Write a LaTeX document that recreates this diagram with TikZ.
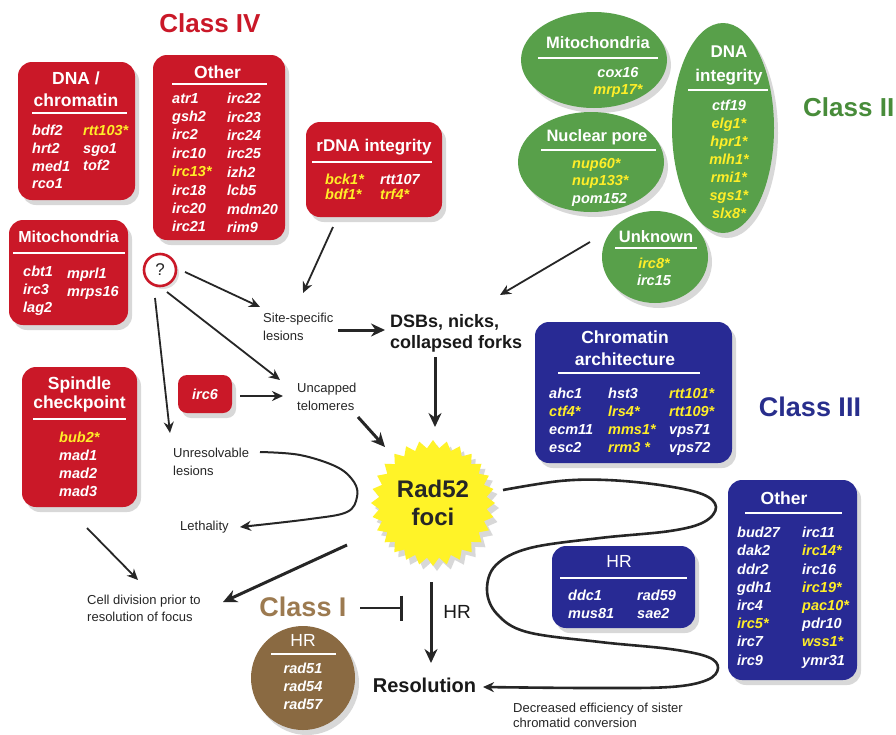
\documentclass[tikz,border=0pt]{standalone}
\usepackage{fontspec}
\setmainfont{Liberation Sans}
\usepackage{tikz}
\usetikzlibrary{arrows.meta,shapes.geometric,shapes.symbols,shadows}
\definecolor{clsred}{RGB}{202,24,40}
\definecolor{clsgreen}{RGB}{88,160,74}
\definecolor{clsgreentxt}{RGB}{72,140,58}
\definecolor{clsblue}{RGB}{40,42,148}
\definecolor{clsbluetxt}{RGB}{40,46,140}
\definecolor{clsbrown}{RGB}{138,106,66}
\definecolor{clsbrowntxt}{RGB}{156,122,80}
\definecolor{hityellow}{RGB}{255,238,40}
\definecolor{fociyellow}{RGB}{255,243,40}
\definecolor{inkgrey}{RGB}{38,38,38}
\newcommand{\hit}[1]{\textcolor{hityellow}{#1}}
\tikzset{
    softshadow/.style={drop shadow={shadow xshift=4pt, shadow yshift=-5pt, opacity=0.3}},
    panel/.style={rounded corners=14pt, inner sep=0pt, softshadow},
    redpanel/.style={panel, fill=clsred},
    bluepanel/.style={panel, fill=clsblue},
    greenblob/.style={ellipse, inner sep=0pt, fill=clsgreen, softshadow},
    head/.style={text=white, inner sep=0pt, align=center, font=\fontsize{17.5}{22}\selectfont\bfseries},
    genes/.style={text=white, inner sep=0pt, align=left, anchor=north west, font=\fontsize{14.5}{#1}\selectfont\bfseries\itshape},
    genes/.default=18.2,
    cgenes/.style={genes=#1, anchor=north, align=center},
    cgenes/.default=18,
    hrule/.style={white, line width=2.6pt},
    note/.style={text=inkgrey, inner sep=0pt, anchor=west, align=left, font=\fontsize{13}{18}\selectfont},
    classlbl/.style={inner sep=0pt, font=\fontsize{27}{30}\selectfont\bfseries},
    arr/.style={draw=inkgrey, line width=1.8pt, -{Stealth[length=11pt,width=10pt]}},
    fatarr/.style={draw=inkgrey, line width=3pt, -{Stealth[length=14pt,width=13pt]}},
}

\begin{document}
\begin{tikzpicture}[x=1pt,y=1pt]
\useasboundingbox (0,0) rectangle (896,-734);
\fill[white] (0,0) rectangle (896,-734);

% Class IV
\node[classlbl, text=clsred, font=\fontsize{26}{30}\selectfont\bfseries] (c4) at (210,-23) {Class IV};
\node[redpanel, minimum width=117pt, minimum height=138pt] (dnabox) at (76.5,-131) {};
\node[redpanel, minimum width=132pt, minimum height=185pt] (othbox) at (219,-147.5) {};
\node[redpanel, minimum width=136pt, minimum height=95pt] (rdna) at (374,-169.5) {};
\node[redpanel, minimum width=119pt, minimum height=105pt] (mitobox) at (68.5,-272.5) {};
\node[redpanel, minimum width=115pt, minimum height=140pt] (spindle) at (79.5,-437) {};
\node[redpanel, rounded corners=9pt, minimum width=54pt, minimum height=38pt, text=white,
      font=\fontsize{14.5}{18}\selectfont\bfseries\itshape] (irc6) at (205,-394) {irc6};

\node[head] (dnahead) at (76,-89) {DNA /\\chromatin};
\draw[hrule] (32,-113) -- (127,-113);
\node[genes=17.7] (dnaA) at (32,-125) {bdf2\\hrt2\\med1\\rco1};
\node[genes=17.7] (dnaB) at (83,-125) {\hit{rtt103*}\\sgo1\\tof2};

\node[head] (othhead) at (217.5,-72) {Other};
\draw[hrule] (172,-84) -- (267,-84);
\node[genes=18.4] (othA) at (172,-93) {atr1\\gsh2\\irc2\\irc10\\\hit{irc13*}\\irc18\\irc20\\irc21};
\node[genes=18.4] (othB) at (227,-93) {irc22\\irc23\\irc24\\irc25\\izh2\\lcb5\\mdm20\\rim9};

\node[head, font=\fontsize{17}{20}\selectfont\bfseries] (rdnahead) at (374,-147) {rDNA integrity};
\draw[hrule] (312,-162) -- (432,-162);
\node[genes=15] (rdnaA) at (325,-174) {\hit{bck1*}\\\hit{bdf1*}};
\node[genes=15] (rdnaB) at (380,-174) {rtt107\\\hit{trf4*}};

\node[head, font=\fontsize{16}{20}\selectfont\bfseries] (mitohead) at (68.5,-237) {Mitochondria};
\draw[hrule] (13,-253) -- (125,-253);
\node[genes=18] (mitoA) at (23,-266) {cbt1\\irc3\\lag2};
\node[genes=18] (mitoB) at (67,-268) {mprl1\\mrps16};

\node[head, font=\fontsize{17.5}{19}\selectfont\bfseries] (spinhead) at (79.5,-394) {Spindle\\checkpoint};
\draw[hrule] (33,-419) -- (126,-419);
\node[genes=18] (spinA) at (59,-432) {\hit{bub2*}\\mad1\\mad2\\mad3};

\node[circle, draw=clsred, line width=2.6pt, fill=white, minimum size=32pt, inner sep=0pt,
      text=inkgrey, font=\fontsize{17}{20}\selectfont,
      drop shadow={shadow xshift=3pt, shadow yshift=-3pt, opacity=0.25}] (qmark) at (160,-270) {?};

% Class II
\node[greenblob, minimum width=146pt, minimum height=96pt] (gmito) at (594,-60) {};
\node[greenblob, minimum width=146pt, minimum height=100pt] (gpore) at (591,-162) {};
\node[greenblob, minimum width=102pt, minimum height=210pt] (gdna) at (723,-128) {};
\node[greenblob, minimum width=106pt, minimum height=92pt] (unkn) at (655,-257) {};

\node[head, font=\fontsize{16.5}{20}\selectfont\bfseries] (gmitohead) at (598,-43) {Mitochondria};
\draw[hrule] (538,-58) -- (658,-58);
\node[cgenes=17] (gmitoA) at (618,-67) {cox16\\\hit{mrp17*}};

\node[head, font=\fontsize{16.5}{20}\selectfont\bfseries] (gporehead) at (597,-137) {Nuclear pore};
\draw[hrule] (541,-150) -- (656,-150);
\node[genes=17.5] (gporeA) at (572,-158) {\hit{nup60*}\\\hit{nup133*}\\pom152};

\node[head, font=\fontsize{17}{24}\selectfont\bfseries] (gdnahead) at (729,-65) {DNA\\integrity};
\draw[hrule] (688,-90) -- (768,-90);
\node[cgenes=18] (gdnaA) at (729,-100) {ctf19\\\hit{elg1*}\\\hit{hpr1*}\\\hit{mlh1*}\\\hit{rmi1*}\\\hit{sgs1*}\\\hit{slx8*}};

\node[head, font=\fontsize{16.5}{20}\selectfont\bfseries] (unknhead) at (656,-237) {Unknown};
\draw[hrule] (615,-248) -- (697,-248);
\node[cgenes=17] (unknA) at (654,-258) {\hit{irc8*}\\irc15};

\node[classlbl, anchor=west, text=clsgreentxt, font=\fontsize{26}{30}\selectfont\bfseries] (c2) at (803,-107) {Class II};

% Class III
\node[bluepanel, minimum width=197pt, minimum height=141pt] (chrom) at (633.5,-392.5) {};
\node[bluepanel, minimum width=143pt, minimum height=82pt] (bluehr) at (623.5,-587) {};
\node[bluepanel, minimum width=129pt, minimum height=200pt] (blueoth) at (792.5,-580) {};

\node[head] (chromhead) at (625,-348) {Chromatin\\architecture};
\draw[hrule] (558,-373) -- (700,-373);
\node[genes=18] (chromA) at (549,-388) {ahc1\\\hit{ctf4*}\\ecm11\\esc2};
\node[genes=18] (chromB) at (608,-388) {hst3\\\hit{lrs4*}\\\hit{mms1*}\\\hit{rrm3 *}};
\node[genes=18] (chromC) at (669,-388) {\hit{rtt101*}\\\hit{rtt109*}\\vps71\\vps72};

\node[head, font=\fontsize{17.5}{20}\selectfont] (bluehrhead) at (619,-561) {HR};
\draw[hrule] (560,-578) -- (687,-578);
\node[genes=18] (bluehrA) at (568,-590) {ddc1\\mus81};
\node[genes=18] (bluehrB) at (637,-590) {rad59\\sae2};

\node[head] (bluothhead) at (784,-498) {Other};
\draw[hrule] (745,-513) -- (842,-513);
\node[genes=18.2] (bluothA) at (737,-527) {bud27\\dak2\\ddr2\\gdh1\\irc4\\\hit{irc5*}\\irc7\\irc9};
\node[genes=18.2] (bluothB) at (802,-527) {irc11\\\hit{irc14*}\\irc16\\\hit{irc19*}\\\hit{pac10*}\\pdr10\\\hit{wss1*}\\ymr31};

\node[classlbl, text=clsbluetxt] (c3) at (810,-407) {Class III};

% Class I
\node[circle, fill=clsbrown, minimum size=104pt, inner sep=0pt, softshadow] (brownhr) at (303,-678) {};
\node[head, font=\fontsize{17.5}{20}\selectfont] (brownhead) at (303,-640) {HR};
\draw[hrule] (271,-654) -- (336,-654);
\node[cgenes=18] (brownA) at (303,-663) {rad51\\rad54\\rad57};
\node[classlbl, text=clsbrowntxt] (c1) at (303,-607) {Class I};

% pathway
\node[starburst, starburst points=28, starburst point height=8pt, random starburst=0,
      fill=fociyellow, minimum width=124pt, minimum height=126pt, inner sep=0pt, align=center,
      font=\fontsize{24}{28}\selectfont\bfseries, text=black!85, softshadow] (rad52) at (433,-503) {Rad52\\foci};

\node[note] (site) at (263,-327) {Site-specific\\lesions};
\node[note] (uncap) at (297,-397) {Uncapped\\telomeres};
\node[note] (unres) at (173,-462) {Unresolvable\\lesions};
\node[note] (leth) at (180,-527) {Lethality};
\node[note, font=\fontsize{13}{17}\selectfont] (celldiv) at (87,-608.5) {Cell division prior to\\resolution of focus};
\node[note, font=\fontsize{13}{15.5}\selectfont] (decr) at (513,-715.5) {Decreased efficiency of sister\\chromatid conversion};
\node[note, text=black!90, font=\fontsize{18}{21}\selectfont\bfseries] (dsbs) at (390,-333.5) {DSBs, nicks,\\collapsed forks};
\node[inner sep=0pt, text=black!90, font=\fontsize{20}{24}\selectfont\bfseries] (resol) at (424.5,-685) {Resolution};
\node[inner sep=0pt, text=black!90, font=\fontsize{19}{22}\selectfont] (hrlab) at (457,-612) {HR};

\draw[arr] ([shift={(25,-2)}]qmark.center) -- ([shift={(-3,20)}]site.west);
\draw[arr] ([shift={(7,-22)}]qmark.center) -- ([shift={(-17,17)}]uncap.west);
\draw[arr] ([shift={(-5,-28)}]qmark.center) -- ([shift={(-3,29)}]unres.west);
\draw[arr] ([shift={(-41,-57.5)}]rdna.center) -- ([shift={(40,34)}]site.west);
\draw[arr] ([shift={(-65,15)}]unkn.center) -- ([shift={(110,38.5)}]dsbs.west);
\draw[fatarr] ([shift={(75,-3)}]site.west) -- ([shift={(-5,3.5)}]dsbs.west);
\draw[arr] ([shift={(35,-2)}]irc6.center) -- ([shift={(-14,1)}]uncap.west);
\draw[fatarr] ([shift={(61,-20)}]uncap.west) -- ([shift={(-48,56)}]rad52.center);
\draw[fatarr] ([shift={(45,-23.5)}]dsbs.west) -- ([shift={(2,76)}]rad52.center);
\draw[arr] ([shift={(7.5,-91)}]spindle.center) -- ([shift={(51,28.5)}]celldiv.west);
\draw[fatarr] ([shift={(-86,-42)}]rad52.center) -- ([shift={(136,6.5)}]celldiv.west);
\draw[fatarr] ([shift={(-2,-79)}]rad52.center) -- ([shift={(6.5,22)}]resol.center);
\draw[draw=inkgrey, line width=2.6pt, -{Bar[width=25pt]}] ([shift={(57,-1)}]c1.center) -- ([shift={(100,-1)}]c1.center);

\draw[arr, line width=2pt] plot[smooth, tension=0.6] coordinates {([shift={(87,10)}]unres.west) (300,-455) (337,-467) (354,-482) (357,-497) (347,-512) (310,-519) ([shift={(60,0)}]leth.west)};
\draw[arr, line width=2.6pt] plot[smooth, tension=0.6] coordinates {([shift={(70,13)}]rad52.center) (560,-481) (607,-480) (660,-485) (702,-494) (716,-507) (704,-522) (670,-531) (600,-538) (530,-548) (496,-565) (487,-590) (497,-614) (527,-632) (600,-642) (670,-649) (708,-657) (718,-668) (707,-680) (670,-687) (590,-688) ([shift={(58.5,-2)}]resol.center)};
\end{tikzpicture}
\end{document}
